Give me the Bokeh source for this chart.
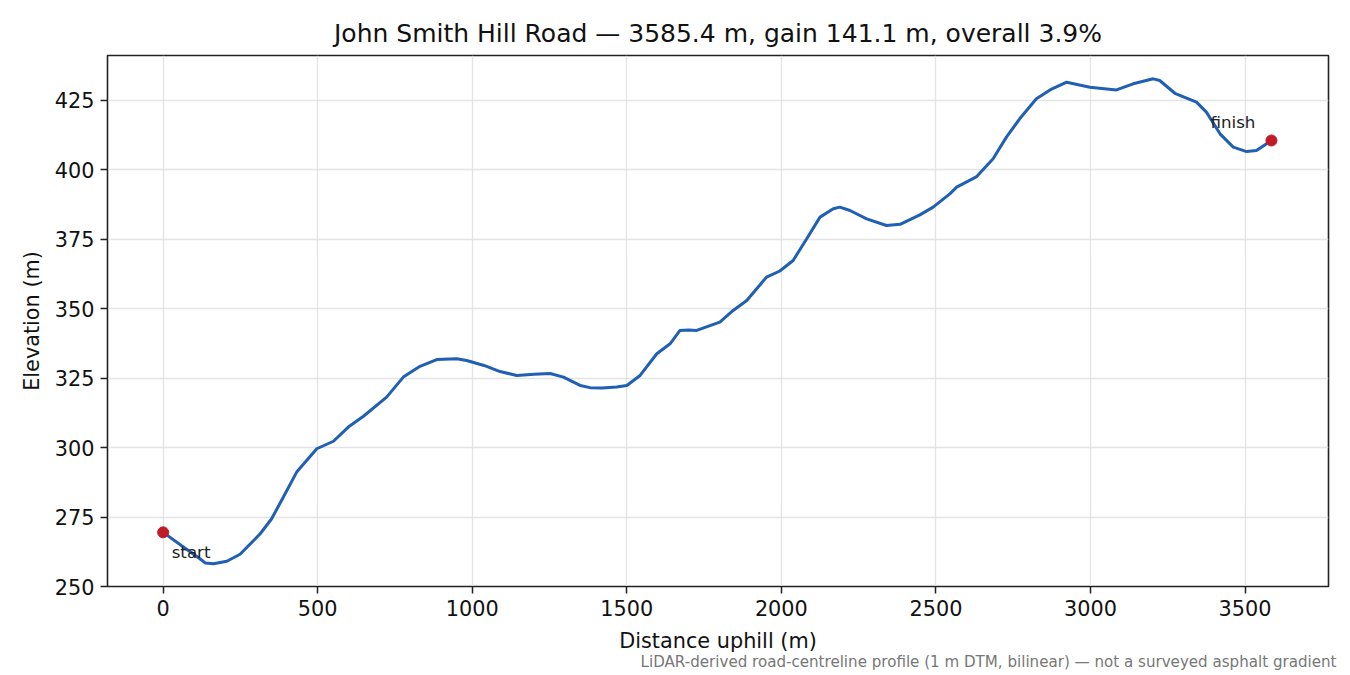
from bokeh.plotting import figure
from bokeh.models import Label, Title, Range1d, FixedTicker
from bokeh.embed import file_html
from bokeh.resources import INLINE

# road profile (distance uphill m, elevation m)
dist = [0, 60, 119, 136, 163, 206, 249, 314, 351, 389,
        432, 497, 551, 599, 648, 723, 777, 831, 885, 950,
        982, 1038, 1090, 1144, 1200, 1252, 1295, 1349, 1381, 1420, 1467,
        1500, 1543, 1597, 1640, 1672, 1700, 1726, 1801, 1844, 1888,
        1952, 1995, 2038, 2082, 2125, 2168, 2189, 2222, 2276, 2340,
        2384, 2448, 2491, 2545, 2567, 2632, 2685, 2728, 2771, 2825,
        2869, 2923, 2998, 3084, 3138, 3203, 3224, 3273, 3343, 3375,
        3419, 3462, 3505, 3537, 3585.4]
elev = [269.5, 264.7, 260.0, 258.5, 258.2, 259.1, 261.6, 269.0, 274.4, 282.2,
        291.2, 299.6, 302.3, 307.4, 311.3, 318.2, 325.4, 329.3, 331.7, 332.0,
        331.4, 329.6, 327.4, 326.0, 326.4, 326.7, 325.4, 322.4, 321.6, 321.5, 321.8,
        322.4, 326.0, 333.8, 337.4, 342.2, 342.4, 342.2, 345.2, 349.4, 353.0,
        361.4, 363.6, 367.4, 375.2, 383.0, 386.0, 386.6, 385.4, 382.4, 380.0,
        380.4, 383.8, 386.6, 391.4, 393.8, 397.6, 404.0, 411.8, 418.4, 425.6,
        428.8, 431.6, 429.8, 428.8, 431.0, 432.8, 432.2, 427.6, 424.4, 420.8,
        413.0, 408.2, 406.6, 407.0, 410.6]

ends_x = [dist[0], dist[-1]]
ends_y = [elev[0], elev[-1]]
end_names = ["start", "finish"]

x_ticks = [0, 500, 1000, 1500, 2000, 2500, 3000, 3500]
y_ticks = [250, 275, 300, 325, 350, 375, 400, 425]

title_text = "John Smith Hill Road \u2014 3585.4 m, gain 141.1 m, overall 3.9%"
note_text = "LiDAR-derived road-centreline profile (1 m DTM, bilinear) \u2014 not a surveyed asphalt gradient"

FONT = "DejaVu Sans"

p = figure(width=1342, height=675, output_backend="svg", toolbar_location=None,
           x_range=Range1d(-180, 3770), y_range=Range1d(250, 441.2),
           min_border_left=107, min_border_right=14, min_border_top=55, min_border_bottom=89)

p.line(dist, elev, line_color="#1f5fb4", line_width=3)
p.scatter(ends_x, ends_y, size=11, fill_color="#c11b28", line_color="#c11b28")

# start / finish labels
p.add_layout(Label(x=ends_x[0], y=ends_y[0], text=end_names[0], x_offset=8.5, y_offset=-20,
                   text_baseline="alphabetic", text_font=FONT, text_font_size="16.7px",
                   text_color="#222222"))
p.add_layout(Label(x=ends_x[1], y=ends_y[1], text=end_names[1], x_offset=-16, y_offset=18.5,
                   text_align="right", text_baseline="alphabetic", text_font=FONT,
                   text_font_size="16.7px", text_color="#222222"))

# title
p.title.text = title_text
p.title.align = "center"
p.title.text_font = FONT
p.title.text_font_size = "25px"
p.title.text_font_style = "normal"
p.title.text_color = "#111111"
p.title.standoff = 15

# footer note, bottom right
note = Title(text=note_text, align="right", text_font=FONT, text_font_size="15.1px",
             text_font_style="normal", text_color="#777777", standoff=-9, offset=-8)
p.add_layout(note, "below")

for ax in (p.xaxis, p.yaxis):
    ax.axis_label_text_font = FONT
    ax.axis_label_text_font_size = "20.8px"
    ax.axis_label_text_font_style = "normal"
    ax.axis_label_text_color = "#111111"
    ax.major_label_text_font = FONT
    ax.major_label_text_font_size = "20.8px"
    ax.major_label_text_color = "#111111"
    ax.axis_line_color = "#222222"
    ax.major_tick_line_color = "#222222"
    ax.major_tick_line_width = 1.5
    ax.major_tick_out = 7
    ax.major_tick_in = 0
    ax.minor_tick_line_color = None
    ax.major_label_standoff = 6

p.xaxis.axis_label = "Distance uphill (m)"
p.yaxis.axis_label = "Elevation (m)"
p.xaxis.ticker = FixedTicker(ticks=x_ticks)
p.yaxis.ticker = FixedTicker(ticks=y_ticks)
p.xaxis.axis_label_standoff = 10
p.yaxis.axis_label_standoff = 8

p.xgrid.ticker = FixedTicker(ticks=x_ticks)
p.ygrid.ticker = FixedTicker(ticks=y_ticks)
p.grid.grid_line_color = "#dddddd"
p.grid.grid_line_width = 1.3
p.grid.grid_line_alpha = 0.8

p.outline_line_color = "#222222"
p.outline_line_width = 1.6

open("out.html", "w").write(file_html(p, INLINE))
